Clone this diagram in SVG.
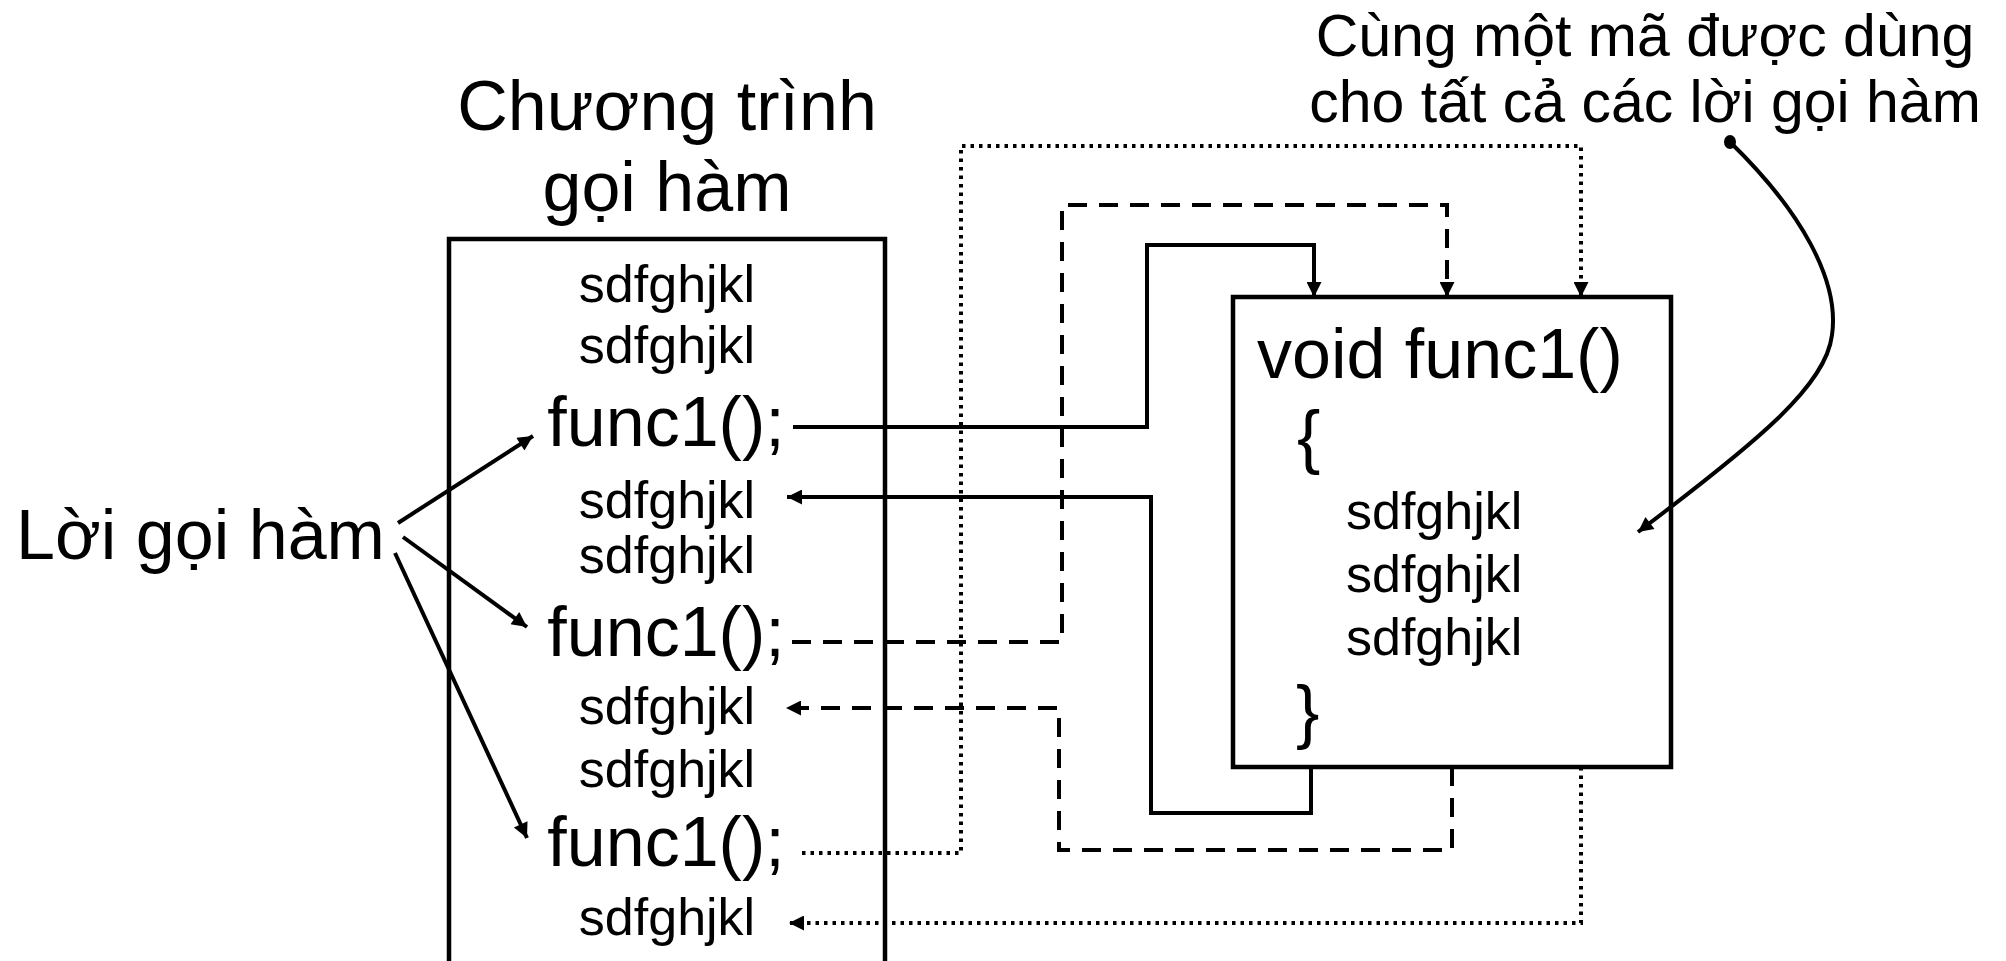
<svg xmlns="http://www.w3.org/2000/svg" width="2006" height="961" viewBox="0 0 2006 961">
<defs>
<style>
text{font-family:"Liberation Sans",Arial,sans-serif;fill:#000}
.big{font-size:70px}
.mid{font-size:59px}
.sm{font-size:52px}
.box{fill:#fff;stroke:#000;stroke-width:4.5}
.ln{fill:none;stroke:#000;stroke-width:4}
.dash{fill:none;stroke:#000;stroke-width:4;stroke-dasharray:19 12}
.dot{fill:none;stroke:#000;stroke-width:4;stroke-dasharray:3.5 5}
</style>
<marker id="ah" viewBox="0 0 10 10" refX="10" refY="5" markerWidth="20" markerHeight="15" markerUnits="userSpaceOnUse" orient="auto">
<path d="M0,0 L10,5 L0,10 z" fill="#000"/>
</marker>
</defs>
<rect width="2006" height="961" fill="#fff"/>
<g id="caller-title">
<text class="big" x="667" y="130" text-anchor="middle">Chương trình</text>
<text class="big" x="667" y="211" text-anchor="middle">gọi hàm</text>
</g>
<g id="caller">
<path class="box" d="M449,975 L449,239 L885,239 L885,975"/>
<text class="sm" x="667" y="302" text-anchor="middle">sdfghjkl</text>
<text class="sm" x="667" y="363" text-anchor="middle">sdfghjkl</text>
<text class="big" x="666" y="446" text-anchor="middle">func1();</text>
<text class="sm" x="667" y="518" text-anchor="middle">sdfghjkl</text>
<text class="sm" x="667" y="573" text-anchor="middle">sdfghjkl</text>
<text class="big" x="666" y="656" text-anchor="middle">func1();</text>
<text class="sm" x="667" y="724" text-anchor="middle">sdfghjkl</text>
<text class="sm" x="667" y="787" text-anchor="middle">sdfghjkl</text>
<text class="big" x="666" y="866" text-anchor="middle">func1();</text>
<text class="sm" x="667" y="935" text-anchor="middle">sdfghjkl</text>
</g>
<g id="func1">
<rect class="box" x="1233" y="297" width="438" height="470"/>
<text class="big" x="1257" y="378">void func1()</text>
<text class="big" x="1297" y="460">{</text>
<text class="sm" x="1346" y="529">sdfghjkl</text>
<text class="sm" x="1346" y="592">sdfghjkl</text>
<text class="sm" x="1346" y="655">sdfghjkl</text>
<text class="big" x="1296" y="735">}</text>
</g>
<g id="call-label">
<text class="big" x="16" y="559">Lời gọi hàm</text>
</g>
<g id="note">
<text class="mid" x="1645" y="56" text-anchor="middle">Cùng một mã được dùng</text>
<text class="mid" x="1645" y="122" text-anchor="middle">cho tất cả các lời gọi hàm</text>
</g>
<g id="connectors">
<path class="ln" d="M398,523 L533,436" marker-end="url(#ah)"/>
<path class="ln" d="M403,537 L527,627" marker-end="url(#ah)"/>
<path class="ln" d="M395,553 L527,838" marker-end="url(#ah)"/>
<path class="ln" d="M793,427 L1147,427 L1147,245 L1314,245 L1314,297" marker-end="url(#ah)"/>
<path class="ln" d="M1311,767 L1311,813 L1151,813 L1151,497 L787,497" marker-end="url(#ah)"/>
<path class="dash" d="M792,642 L1062,642 L1062,205 L1447,205 L1447,297" marker-end="url(#ah)"/>
<path class="dash" d="M1452,767 L1452,850 L1059,850 L1059,708 L786,708" marker-end="url(#ah)"/>
<path class="dot" d="M802,853 L961,853 L961,146 L1581,146 L1581,297" marker-end="url(#ah)"/>
<path class="dot" d="M1581,767 L1581,923 L789,923" marker-end="url(#ah)"/>
<path class="ln" d="M1730,142 C1800,210 1840,280 1832,335 C1826,385 1760,440 1638,532" marker-end="url(#ah)"/>
<ellipse cx="1730" cy="142" rx="6" ry="7" fill="#000"/>
</g>
</svg>
